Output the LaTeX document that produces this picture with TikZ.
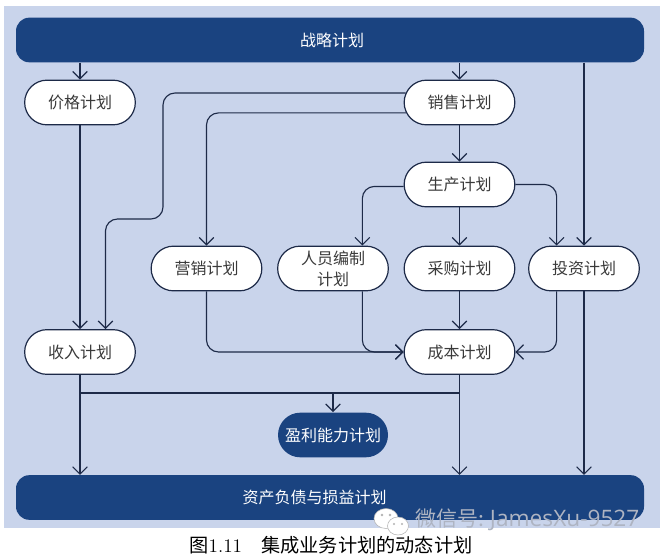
\documentclass[tikz,border=0pt]{standalone}
\usepackage{fontspec}
\usepackage{tikz}
\usetikzlibrary{calc}
\usetikzlibrary{positioning}
\usetikzlibrary{arrows.meta, shapes.misc}
\newfontfamily\cjk{Noto Sans CJK SC}
\newfontfamily\markfont{Open Sans}
\definecolor{panelColor}{HTML}{C9D4EB}
\definecolor{barColor}{HTML}{1A4380}
\definecolor{lineColor}{HTML}{1D2A48}
\definecolor{textColor}{HTML}{3A3A3A}
\definecolor{markColor}{HTML}{AEB4C2}
\tikzset{
    plan/.style = {rounded rectangle, draw=lineColor, line width=0.9pt, fill=white, text=textColor,
        minimum width=83pt, minimum height=33.5pt, inner sep=0pt, align=center,
        font=\cjk\fontsize{12}{15.75}\selectfont},
    planD/.style = {plan, draw=none, fill=barColor, text=white, minimum width=82.5pt},
    bar/.style = {rectangle, rounded corners=10pt, fill=barColor, text=white, minimum width=471pt,
        minimum height=33.5pt, inner sep=0pt, font=\cjk\fontsize{12}{15}\selectfont},
    conn/.style = {line width=0.85pt, draw=lineColor, rounded corners=9pt,
        -{Straight Barb[length=5.5pt,width=11pt,line width=0.85pt]}},
    bus/.style = {line width=0.85pt, draw=lineColor}
}

\begin{document}
\begin{tikzpicture}[x=0.75pt,y=-0.75pt]
    \useasboundingbox (0,0) rectangle (665,556);
    \fill[panelColor] (4,6) rectangle (660,528);

    \node[bar] (strategy) at (330,40) {\hspace{3pt}战略计划};
    \node[bar] (balance) at (330,497.5) {资产负债与损益计划\kern23pt};

    \node[plan] (price) at (80,102.5) {价格计划};
    \node[plan] (sales) at (459.5,102.5) {销售计划};
    \node[plan] (prod) at (459.5,184.5) {生产计划};
    \node[plan] (market) at (206.5,268.5) {营销计划};
    \node[plan] (staff) at (333,268.5) {人员编制\\计划};
    \node[plan] (purchase) at (459.5,268.5) {采购计划};
    \node[plan] (invest) at (584,268.5) {投资计划};
    \node[plan] (revenue) at (80,352) {收入计划};
    \node[plan] (cost) at (459.5,352) {成本计划};
    \node[planD] (profit) at (333,435) {盈利能力计划};

    \foreach \n in {price,sales,invest}{
        \draw[conn] (strategy.south -| \n.north) -- (\n.north);
    }
    \foreach \n in {revenue,cost,invest}{
        \draw[conn] (\n.south) -- (balance.north -| \n.south);
    }
    \foreach \a/\b in {price/revenue,sales/prod,prod/purchase,purchase/cost}{
        \draw[conn] (\a.south) -- (\b.north);
    }

    \draw[conn] (sales.170) -| (163,219) -| (revenue.42);
    \draw[conn] (sales.191) -| (market.north);
    \draw[conn] (prod.182) -| (staff.38);
    \draw[conn] (prod.east) -| (invest.140);
    \draw[conn] (market.south) |- (cost.west);
    \draw[conn] (staff.322) |- (cost.west);
    \draw[conn] (invest.220) |- (cost.east);

    \coordinate (busL) at (80,393);
    \coordinate (busR) at (cost.south |- busL);
    \draw[bus] (busL) -- (busR);
    \draw[conn] (busL -| profit.north) -- (profit.north);

    \node (caption) at (331,545) {\fontsize{14.4}{16}\selectfont\cjk 图{\rmfamily\normalfont\fontsize{14.4}{16}\selectfont 1.11}\hspace{1em}集成业务计划的动态计划};

    \begin{scope}[draw=gray!60,line width=0.4pt,fill=white]
        \filldraw (386,518.5) ellipse (12 and 10);
        \filldraw (398,526) ellipse (10.5 and 9);
        \fill[gray!60] (382,515) circle (1.3) (390,515) circle (1.3) (394,524) circle (1.1) (402,524) circle (1.1);
    \end{scope}
    \node[anchor=west,inner sep=0pt,text=markColor] (mark) at (415,520) {\fontsize{15.75}{18}\selectfont\cjk 微信号:\markfont\fontsize{17}{18}\selectfont\ JamesXu-9527};
\end{tikzpicture}
\end{document}
